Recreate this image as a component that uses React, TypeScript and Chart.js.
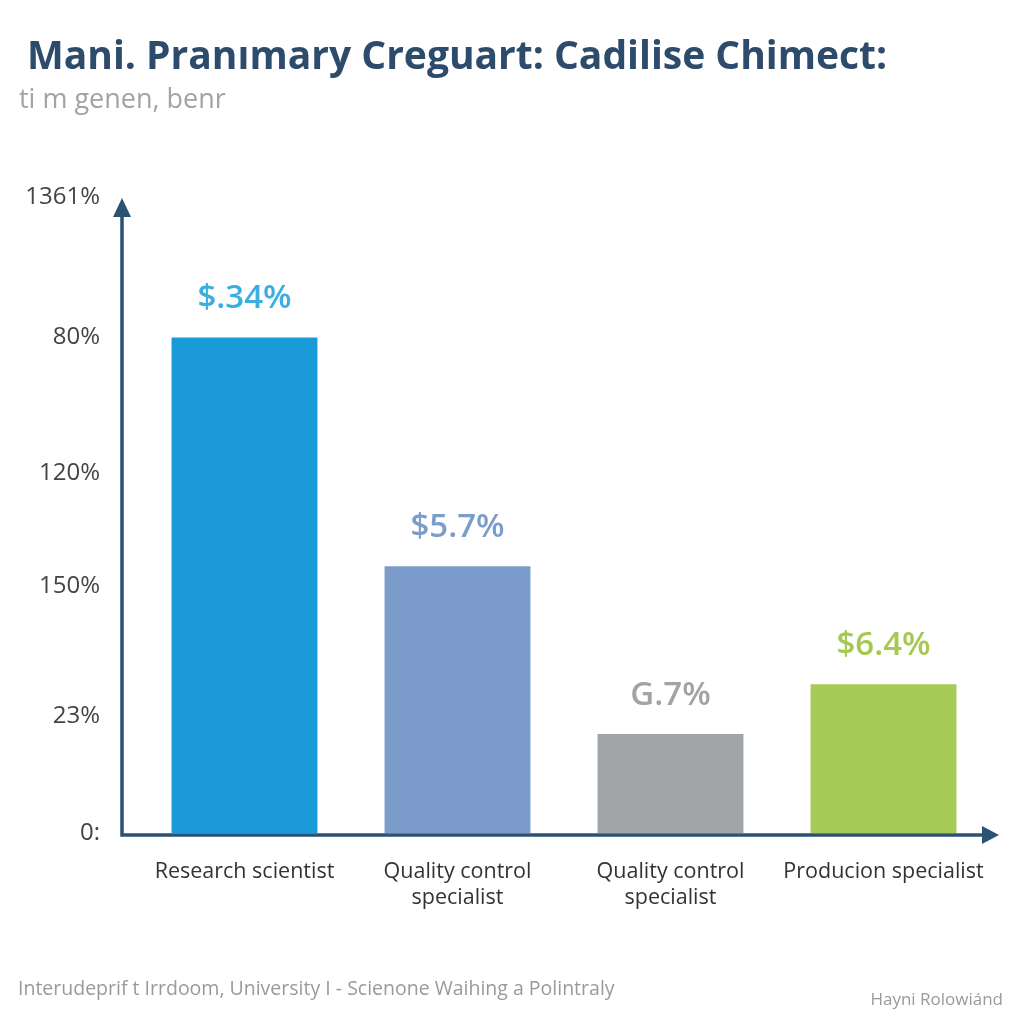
import React, { useEffect, useRef } from "react";
import { Chart, registerables } from "chart.js";

Chart.register(...registerables);

const categories: string[][] = [
  ["Research scientist"],
  ["Quality control", "specialist"],
  ["Quality control", "specialist"],
  ["Producion specialist"],
];
const values = [3.9, 2.1, 0.78, 1.17];
const valueLabels = ["$.34%", "$5.7%", "G.7%", "$6.4%"];
const barColors = ["#1a9bd7", "#7b9ccb", "#a2a5a8", "#a8cb55"];
const labelColors = ["#3aaee0", "#7b9dca", "#a3a3a3", "#a4c94f"];
const yTickValues = [0, 0.92, 1.94, 2.83, 3.9, 5.0];
const yTickLabels = ["0:", "23%", "150%", "120%", "80%", "1361%"];
const titleText = "Mani. Pranımary Creguart: Cadilise Chimect:";
const subtitleText = "ti m genen, benr";
const footerLeft = "Interudeprif t Irrdoom, University I - Scienone Waihing a Polintraly";
const footerRight = "Hayni Rolowiánd";

const AXIS_COLOR = "#2c5173";
const FONT = "'Open Sans', 'Noto Sans', sans-serif";

const decorPlugin = {
  id: "decor",
  beforeDraw(chart: any) {
    const { ctx, width, height } = chart;
    ctx.save();
    ctx.fillStyle = "#ffffff";
    ctx.fillRect(0, 0, width, height);
    ctx.restore();
  },
  afterDraw(chart: any) {
    const { ctx, chartArea } = chart;
    ctx.save();
    // header
    ctx.textBaseline = "alphabetic";
    ctx.textAlign = "left";
    ctx.fillStyle = "#2d4b6b";
    ctx.font = `700 39px ${FONT}`;
    ctx.fillText(titleText, 27, 69);
    ctx.fillStyle = "#a3a3a3";
    ctx.font = `400 27px ${FONT}`;
    ctx.fillText(subtitleText, 19, 108);
    // footer
    ctx.fillStyle = "#9a9a9a";
    ctx.font = `400 19.5px ${FONT}`;
    ctx.fillText(footerLeft, 18, 995);
    ctx.textAlign = "right";
    ctx.font = `400 17px ${FONT}`;
    ctx.fillText(footerRight, 1003, 1005);

    // value labels
    const meta = chart.getDatasetMeta(0);
    ctx.textAlign = "center";
    ctx.font = `600 33px ${FONT}`;
    meta.data.forEach((bar: any, i: number) => {
      ctx.fillStyle = labelColors[i];
      ctx.fillText(valueLabels[i], bar.x, bar.y - 29);
    });

    // axes with arrows
    const ax = chartArea.left - 16;
    const ay = chartArea.bottom + 2;
    ctx.strokeStyle = AXIS_COLOR;
    ctx.fillStyle = AXIS_COLOR;
    ctx.lineWidth = 3.5;
    ctx.beginPath();
    ctx.moveTo(ax, 214);
    ctx.lineTo(ax, ay);
    ctx.lineTo(986, ay);
    ctx.stroke();
    ctx.beginPath();
    ctx.moveTo(ax, 198);
    ctx.lineTo(ax - 9, 217);
    ctx.lineTo(ax + 9, 217);
    ctx.closePath();
    ctx.fill();
    ctx.beginPath();
    ctx.moveTo(999, ay);
    ctx.lineTo(982, ay - 9);
    ctx.lineTo(982, ay + 9);
    ctx.closePath();
    ctx.fill();
    ctx.restore();
  },
};

export default function App() {
  const ref = useRef<HTMLCanvasElement | null>(null);
  useEffect(() => {
    if (!ref.current) return;
    const chart = new Chart(ref.current, {
      type: "bar",
      data: {
        labels: categories,
        datasets: [
          {
            data: values,
            backgroundColor: barColors,
            borderWidth: 0,
            barPercentage: 0.685,
            categoryPercentage: 1,
          },
        ],
      },
      options: {
        responsive: false,
        animation: false,
        layout: { padding: { top: 190, right: 34, left: 0, bottom: 0 } },
        plugins: {
          legend: { display: false },
          tooltip: { enabled: false },
          title: { display: false },
        },
        scales: {
          x: {
            grid: { display: false },
            border: { display: false },
            ticks: {
              color: "#333333",
              font: { family: FONT, size: 21.5, lineHeight: 1.25 },
              padding: 17,
              maxRotation: 0,
              autoSkip: false,
            },
            afterFit: (s: any) => {
              s.height = 191;
            },
          },
          y: {
            min: 0,
            max: 5.06,
            grid: { display: false },
            border: { display: false },
            afterBuildTicks: (s: any) => {
              s.ticks = yTickValues.map((v) => ({ value: v }));
            },
            ticks: {
              color: "#444444",
              font: { family: FONT, size: 24 },
              padding: 30,
              callback: (_v: any, i: number) => yTickLabels[i],
            },
            afterFit: (s: any) => {
              s.width = 138;
            },
          },
        },
      },
      plugins: [decorPlugin],
    });
    return () => chart.destroy();
  }, []);
  return (
    <div style={{ position: "absolute", left: 0, top: 0, width: 1024, height: 1024 }}>
      <canvas ref={ref} width={1024} height={1024} />
    </div>
  );
}
